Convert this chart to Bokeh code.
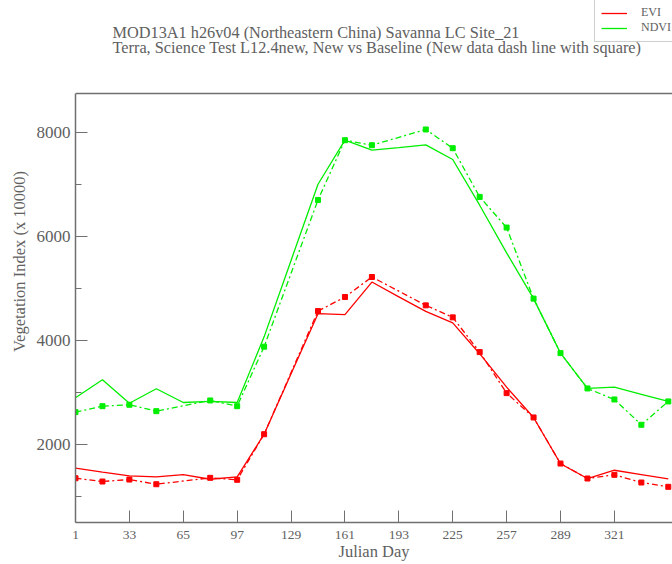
from bokeh.plotting import figure
from bokeh.models import FixedTicker, Label, Legend, LegendItem, Span
from bokeh.embed import file_html
from bokeh.resources import INLINE

# Baseline (solid lines)
base_days = [1, 17, 33, 49, 65, 81, 97, 113, 129, 145, 161, 177, 193, 209, 225, 241, 257, 273, 289, 305, 321, 337, 353]
evi_base = [1544, 1467, 1397, 1378, 1422, 1332, 1378, 2198, 3360, 4516, 4497, 5124, 4840, 4560, 4340, 3746, 3103, 2520, 1630, 1346, 1505, 1422, 1340]
ndvi_base = [2899, 3245, 2794, 3072, 2808, 2828, 2808, 4070, 5540, 7005, 7852, 7660, 7710, 7762, 7481, 6602, 5685, 4805, 3757, 3078, 3104, 2966, 2828]

# New data (dash line with square)
new_days = [1, 17, 33, 49, 81, 97, 113, 145, 161, 177, 209, 225, 241, 257, 273, 289, 305, 321, 337, 353]
evi_new = [1351, 1288, 1326, 1236, 1359, 1321, 2198, 4566, 4836, 5221, 4676, 4445, 3777, 2988, 2520, 1634, 1346, 1417, 1269, 1186]
ndvi_new = [2622, 2737, 2764, 2641, 2847, 2737, 3881, 6703, 7852, 7756, 8058, 7698, 6762, 6172, 4805, 3757, 3078, 2866, 2379, 2828]

x_ticks = [1, 33, 65, 97, 129, 161, 193, 225, 257, 289, 321]
y_ticks = [2000, 4000, 6000, 8000]
y_minor = [1000, 3000, 5000, 7000]

title1 = "MOD13A1 h26v04 (Northeastern China) Savanna LC Site_21"
title2 = "Terra, Science Test L12.4new, New vs Baseline (New data dash line with square)"

FONT = "Liberation Serif"
TXT = "#606060"
AX = "#707070"
RED = "#ff0000"
GREEN = "#00ee00"

Y_BOTTOM = 500
Y_TOP_AXIS = 8750
# frame spans the full canvas height above the x axis; data area top is at Y_TOP_AXIS
Y_FRAME_TOP = Y_TOP_AXIS + 93 * (Y_TOP_AXIS - Y_BOTTOM) / 429.0

p = figure(width=672, height=564, output_backend="svg", toolbar_location=None,
           x_range=(1, 355.5), y_range=(Y_BOTTOM, Y_FRAME_TOP),
           min_border_left=75, min_border_right=0, min_border_top=0, min_border_bottom=42,
           title=None)
p.outline_line_color = None
p.xgrid.visible = False
p.ygrid.visible = False
p.background_fill_color = "white"
p.border_fill_color = "white"

# axes
xa = p.xaxis[0]
xa.ticker = FixedTicker(ticks=x_ticks)
xa.axis_label = "Julian Day"
ya = p.yaxis[0]
ya.ticker = FixedTicker(ticks=y_ticks, minor_ticks=y_minor)
ya.axis_label = "Vegetation Index (x 10000)"
ya.bounds = (Y_BOTTOM, Y_TOP_AXIS)
for ax in (xa, ya):
    ax.axis_line_color = AX
    ax.axis_line_width = 1.5
    ax.major_tick_line_color = AX
    ax.minor_tick_line_color = AX
    ax.major_tick_out = 0
    ax.minor_tick_out = 0
    ax.major_label_text_font = FONT
    ax.major_label_text_color = TXT
    ax.axis_label_text_font = FONT
    ax.axis_label_text_color = TXT
    ax.axis_label_text_font_style = "normal"
    ax.axis_label_text_font_size = "16.5px"
xa.major_tick_in = 12
xa.minor_tick_in = 0
xa.major_label_text_font_size = "13.5px"
xa.major_label_standoff = 8
xa.axis_label_standoff = 0
ya.major_tick_in = 12
ya.minor_tick_in = 6
ya.major_label_text_font_size = "17px"
ya.major_label_standoff = 5
ya.axis_label_standoff = 5

# top border of the data box
p.add_layout(Span(location=Y_TOP_AXIS, dimension="width", line_color=AX, line_width=1.5))

# titles
p.add_layout(Label(x=37, y=490, x_units="screen", y_units="screen", text=title1,
                   text_font=FONT, text_font_size="16.3px", text_color=TXT,
                   text_baseline="middle", text_align="left"))
p.add_layout(Label(x=37, y=475, x_units="screen", y_units="screen", text=title2,
                   text_font=FONT, text_font_size="16.3px", text_color=TXT,
                   text_baseline="middle", text_align="left"))

# data
r_evi = p.line(base_days, evi_base, line_color=RED, line_width=1.3)
r_ndvi = p.line(base_days, ndvi_base, line_color=GREEN, line_width=1.3)
p.line(new_days, evi_new, line_color=RED, line_width=1.3, line_dash="6 3 2 3")
p.scatter(new_days, evi_new, marker="square", size=5, fill_color=RED, line_color=RED)
p.line(new_days, ndvi_new, line_color=GREEN, line_width=1.3, line_dash="6 3 2 3")
p.scatter(new_days, ndvi_new, marker="square", size=5, fill_color=GREEN, line_color=GREEN)

legend = Legend(items=[LegendItem(label="EVI", renderers=[r_evi]),
                       LegendItem(label="NDVI", renderers=[r_ndvi])],
                location=(519, 480), orientation="vertical",
                label_text_font=FONT, label_text_font_size="12px", label_text_color=TXT,
                label_height=12, glyph_height=12, glyph_width=26, spacing=0, padding=6,
                margin=0, label_standoff=14, label_width=36,
                border_line_color="#a0a0a0", border_line_width=1,
                background_fill_color="white", background_fill_alpha=1.0)
p.add_layout(legend, "center")

open("out.html", "w").write(file_html(p, INLINE))
